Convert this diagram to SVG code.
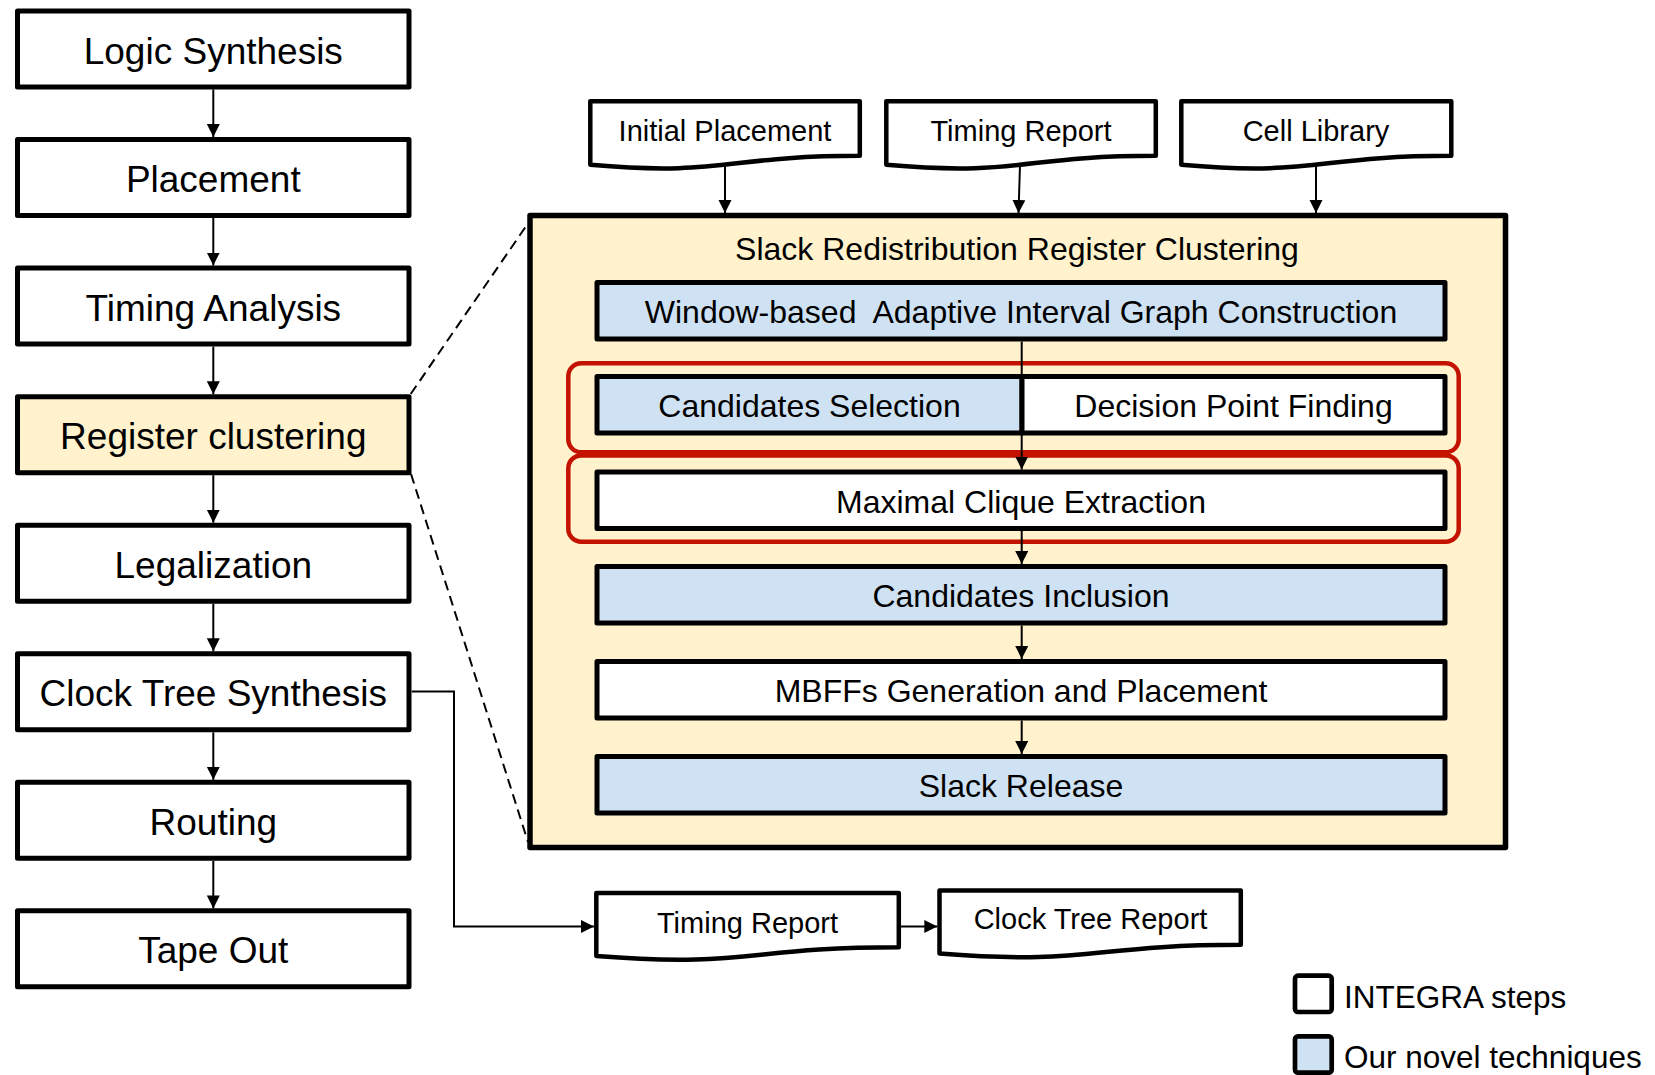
<svg xmlns="http://www.w3.org/2000/svg" width="1655" height="1075" viewBox="0 0 1655 1075">
  <defs>
    <marker id="ah" markerUnits="userSpaceOnUse" markerWidth="14" markerHeight="14" refX="13" refY="6.5" orient="auto">
      <path d="M0,0 L13,6.5 L0,13 Z" fill="#000"/>
    </marker>
    <style>
      text { font-family: "Liberation Sans", Arial, sans-serif; fill: #000; }
      .step { fill: #fff; stroke: #000; stroke-width: 5; stroke-linejoin: round; }
      .hl { fill: #FFF2CC; }
      .nov { fill: #CFE2F3; stroke: #000; stroke-width: 5; stroke-linejoin: round; }
      .wht { fill: #fff; stroke: #000; stroke-width: 5; stroke-linejoin: round; }
      .doc { fill: #fff; stroke: #000; stroke-width: 4.5; stroke-linejoin: round; }
      .red { fill: none; stroke: #C41200; stroke-width: 4.5; }
      .lt { font-size: 37px; text-anchor: middle; }
      .it { font-size: 32px; text-anchor: middle; }
      .dt { font-size: 29px; text-anchor: middle; }
      .lg { font-size: 31.5px; }
      .conn { fill: none; stroke: #000; stroke-width: 2; }
      .dash { fill: none; stroke: #000; stroke-width: 2; stroke-dasharray: 10 6; }
    </style>
  </defs>

  <!-- Left flow -->
  <g id="logic-synthesis"><rect class="step" x="17.5" y="11" width="391.5" height="76"/><text class="lt" x="213.3" y="63.5">Logic Synthesis</text></g>
  <g id="placement"><rect class="step" x="17.5" y="139.55" width="391.5" height="76"/><text class="lt" x="213.3" y="192">Placement</text></g>
  <g id="timing-analysis"><rect class="step" x="17.5" y="268.1" width="391.5" height="76"/><text class="lt" x="213.3" y="320.6">Timing Analysis</text></g>
  <g id="register-clustering"><rect class="step hl" x="17.5" y="396.65" width="391.5" height="76"/><text class="lt" x="213.3" y="449.15">Register clustering</text></g>
  <g id="legalization"><rect class="step" x="17.5" y="525.2" width="391.5" height="76"/><text class="lt" x="213.3" y="577.7">Legalization</text></g>
  <g id="clock-tree-synthesis"><rect class="step" x="17.5" y="653.75" width="391.5" height="76"/><text class="lt" x="213.3" y="706.25">Clock Tree Synthesis</text></g>
  <g id="routing"><rect class="step" x="17.5" y="782.3" width="391.5" height="76"/><text class="lt" x="213.3" y="834.8">Routing</text></g>
  <g id="tape-out"><rect class="step" x="17.5" y="910.85" width="391.5" height="76"/><text class="lt" x="213.3" y="963.35">Tape Out</text></g>

  <!-- Input documents -->
  <g id="doc-initial-placement"><path class="doc" d="M590.3,101.3 H859.8 V155.8 C725,155.8 725,176.6 590.3,164.8 Z"/><text class="dt" x="725" y="141">Initial Placement</text></g>
  <g id="doc-timing-report-in"><path class="doc" d="M886.3,101.3 H1155.8 V155.8 C1021,155.8 1021,176.6 886.3,164.8 Z"/><text class="dt" x="1021" y="141">Timing Report</text></g>
  <g id="doc-cell-library"><path class="doc" d="M1181.3,101.3 H1451.3 V155.8 C1316.3,155.8 1316.3,176.6 1181.3,164.8 Z"/><text class="dt" x="1316" y="141">Cell Library</text></g>

  <!-- Slack Redistribution Register Clustering -->
  <g id="srrc">
    <rect x="530" y="215.5" width="975.5" height="632" fill="#FFF2CC" stroke="#000" stroke-width="5.5" stroke-linejoin="round"/>
    <text class="it" x="1017" y="260">Slack Redistribution Register Clustering</text>
  </g>
  <g id="window-based"><rect class="nov" x="597" y="282.5" width="848" height="56.5"/><text class="it" x="1021" y="323.3">Window-based&#160; Adaptive Interval Graph Construction</text></g>
  <g id="candidates-selection"><rect class="nov" x="597" y="376.5" width="425" height="56.5"/><text class="it" x="809.5" y="417.3">Candidates Selection</text></g>
  <g id="decision-point-finding"><rect class="wht" x="1022" y="376.5" width="423" height="56.5"/><text class="it" x="1233.5" y="417.3">Decision Point Finding</text></g>
  <g id="maximal-clique"><rect class="wht" x="597" y="472" width="848" height="56.5"/><text class="it" x="1021" y="512.8">Maximal Clique Extraction</text></g>
  <g id="candidates-inclusion"><rect class="nov" x="597" y="566.5" width="848" height="56.5"/><text class="it" x="1021" y="607.3">Candidates Inclusion</text></g>
  <g id="mbffs"><rect class="wht" x="597" y="661.5" width="848" height="56.5"/><text class="it" x="1021" y="702.3">MBFFs Generation and Placement</text></g>
  <g id="slack-release"><rect class="nov" x="597" y="756.5" width="848" height="56.5"/><text class="it" x="1021" y="797.3">Slack Release</text></g>
  <g id="highlight-1"><rect class="red" x="568.3" y="363.2" width="890.4" height="89.1" rx="13"/></g>
  <g id="highlight-2"><rect class="red" x="568.3" y="455.4" width="890.4" height="86.3" rx="13"/></g>

  <!-- Output documents -->
  <g id="doc-timing-report-out"><path class="doc" d="M596.3,893 H898.8 V947.2 C747.5,947.2 747.5,967.8 596.3,956 Z"/><text class="dt" x="747.5" y="932.5">Timing Report</text></g>
  <g id="doc-clock-tree-report"><path class="doc" d="M939.5,890.6 H1240.8 V944.8 C1090,944.8 1090,965.4 939.5,953.6 Z"/><text class="dt" x="1090.5" y="929">Clock Tree Report</text></g>

  <!-- Legend -->
  <g id="legend-integra"><rect x="1295" y="975.7" width="36.7" height="36.3" rx="3" fill="#fff" stroke="#000" stroke-width="4.7"/><text class="lg" x="1344" y="1007.5">INTEGRA steps</text></g>
  <g id="legend-novel"><rect x="1295" y="1036.4" width="36.7" height="36.3" rx="3" fill="#CFE2F3" stroke="#000" stroke-width="4.7"/><text class="lg" x="1344" y="1068">Our novel techniques</text></g>

  <!-- Connectors -->
  <g id="connectors">
    <line class="conn" x1="213.3" y1="89.5" x2="213.3" y2="137" marker-end="url(#ah)"/>
    <line class="conn" x1="213.3" y1="218" x2="213.3" y2="265.6" marker-end="url(#ah)"/>
    <line class="conn" x1="213.3" y1="346.6" x2="213.3" y2="394.2" marker-end="url(#ah)"/>
    <line class="conn" x1="213.3" y1="475.2" x2="213.3" y2="522.7" marker-end="url(#ah)"/>
    <line class="conn" x1="213.3" y1="603.7" x2="213.3" y2="651.3" marker-end="url(#ah)"/>
    <line class="conn" x1="213.3" y1="732.3" x2="213.3" y2="779.8" marker-end="url(#ah)"/>
    <line class="conn" x1="213.3" y1="860.8" x2="213.3" y2="908.4" marker-end="url(#ah)"/>

    <line class="dash" x1="410.7" y1="394" x2="531" y2="219"/>
    <line class="dash" x1="411" y1="474" x2="528" y2="842"/>

    <line class="conn" x1="725" y1="165" x2="725" y2="213" marker-end="url(#ah)"/>
    <line class="conn" x1="1020" y1="165" x2="1018.5" y2="213" marker-end="url(#ah)"/>
    <line class="conn" x1="1316" y1="165" x2="1316" y2="213" marker-end="url(#ah)"/>

    <line class="conn" x1="1021.7" y1="341.5" x2="1021.7" y2="469.5" marker-end="url(#ah)"/>
    <line class="conn" x1="1021.7" y1="531" x2="1021.7" y2="564" marker-end="url(#ah)"/>
    <line class="conn" x1="1021.7" y1="625.5" x2="1021.7" y2="659" marker-end="url(#ah)"/>
    <line class="conn" x1="1021.7" y1="720.5" x2="1021.7" y2="754" marker-end="url(#ah)"/>

    <polyline class="conn" points="411.7,691.5 454,691.5 454,926.5 594,926.5" marker-end="url(#ah)"/>
    <line class="conn" x1="901" y1="926.5" x2="937.3" y2="926.5" marker-end="url(#ah)"/>
  </g>
</svg>
